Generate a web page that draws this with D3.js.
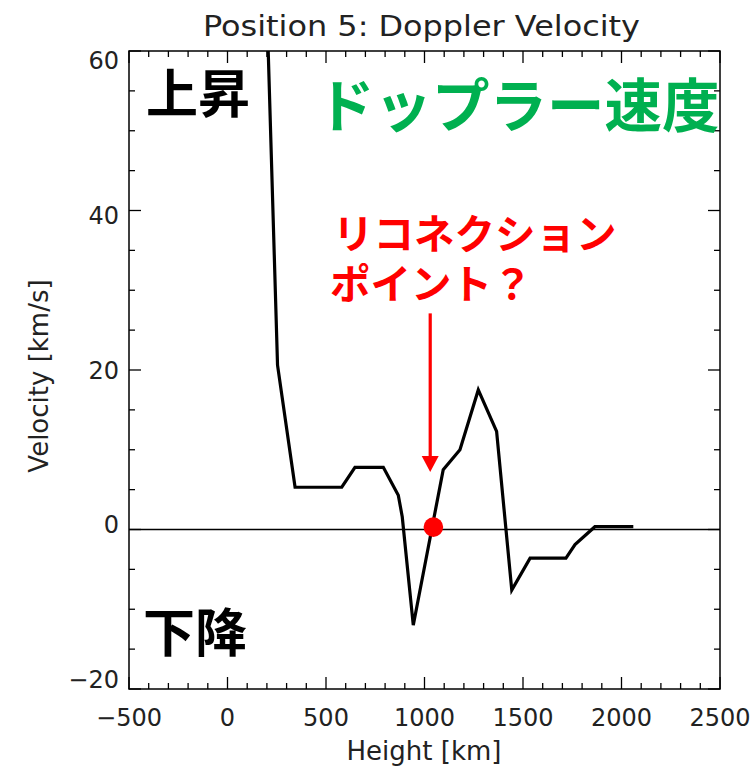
<!DOCTYPE html>
<html>
<head>
<meta charset="utf-8">
<script src="https://cdn.jsdelivr.net/npm/d3@7"></script>
<style>
  html, body { margin: 0; padding: 0; background: #fff; }
  svg { display: block; }
</style>
</head>
<body>
<svg id="chart" width="756" height="768"></svg>
<script>
// Doppler velocity profile along height (km) at position 5
const heights    = [185, 254, 343, 580, 647, 791, 867, 887, 943, 1095, 1180, 1273, 1366, 1443, 1536, 1718, 1764, 1865, 2060];
const velocities = [78, 20.6, 5.3, 5.3, 7.8, 7.8, 4.3, 1.6, -12.0, 7.5, 10.0, 17.5, 12.3, -7.6, -3.6, -3.6, -1.9, 0.35, 0.35];

const xMajorTicks = [-500, 0, 500, 1000, 1500, 2000, 2500];
const yMajorTicks = [-20, 0, 20, 40, 60];

// Candidate reconnection point and its pointer
const reconnectionPoint = [1045, 0.3];
const pointerFrom = [1029, 27.1];
const pointerTo   = [1029, 7.2];

const frame = { left: 129, right: 720, top: 51, bottom: 689 };

const svg = d3.select("#chart");
const x = d3.scaleLinear().domain([-500, 2500]).range([frame.left, frame.right]);
const y = d3.scaleLinear().domain([-20, 60]).range([frame.bottom, frame.top]);
// tick labels sit slightly inside the extreme ticks
const yLabelPos = d3.scaleLinear().domain([60, -20]).range([61, 680]);

const axisFont = "'DejaVu Sans', sans-serif";
const textCol = "#222";

svg.append("defs").append("clipPath").attr("id", "plotClip")
  .append("rect")
  .attr("x", frame.left).attr("y", frame.top)
  .attr("width", frame.right - frame.left).attr("height", frame.bottom - frame.top);

// Frame
svg.append("rect")
  .attr("x", frame.left).attr("y", frame.top)
  .attr("width", frame.right - frame.left).attr("height", frame.bottom - frame.top)
  .attr("fill", "none").attr("stroke", "#000").attr("stroke-width", 1.5);

// Inward ticks on all four sides: majors plus minor subdivisions
const tickG = svg.append("g").attr("stroke", "#000").attr("stroke-width", 1.3);
const xAll = d3.range(-500, 2501, 100);
const yAll = d3.range(-20, 61, 5);
xAll.forEach(v => {
  const len = (v % 500 === 0) ? 12 : 6;
  const px = x(v);
  tickG.append("line").attr("x1", px).attr("x2", px).attr("y1", frame.bottom).attr("y2", frame.bottom - len);
  tickG.append("line").attr("x1", px).attr("x2", px).attr("y1", frame.top).attr("y2", frame.top + len);
});
yAll.forEach(v => {
  const len = (v % 20 === 0) ? 12 : 6;
  const py = y(v);
  tickG.append("line").attr("x1", frame.left).attr("x2", frame.left + len).attr("y1", py).attr("y2", py);
  tickG.append("line").attr("x1", frame.right).attr("x2", frame.right - len).attr("y1", py).attr("y2", py);
});

const fmt = v => (v < 0 ? "\u2212" + Math.abs(v) : String(v));

// X tick labels
svg.append("g").selectAll("text").data(xMajorTicks).join("text")
  .attr("x", d => x(d)).attr("y", 726)
  .attr("text-anchor", "middle")
  .attr("font-family", axisFont).attr("font-size", 24).attr("fill", textCol)
  .text(fmt);

// Y tick labels
svg.append("g").selectAll("text").data(yMajorTicks).join("text")
  .attr("x", 119).attr("y", d => yLabelPos(d))
  .attr("text-anchor", "end").attr("dominant-baseline", "central")
  .attr("font-family", axisFont).attr("font-size", 24).attr("fill", textCol)
  .text(fmt);

// Titles
svg.append("text")
  .attr("x", 421.5).attr("y", 36).attr("text-anchor", "middle")
  .attr("font-family", axisFont).attr("font-size", 28).attr("fill", textCol)
  .attr("textLength", 437).attr("lengthAdjust", "spacingAndGlyphs")
  .text("Position 5: Doppler Velocity");

svg.append("text")
  .attr("x", 424).attr("y", 760).attr("text-anchor", "middle")
  .attr("font-family", axisFont).attr("font-size", 26).attr("fill", textCol)
  .text("Height [km]");

svg.append("text")
  .attr("transform", "translate(48,376) rotate(-90)")
  .attr("text-anchor", "middle")
  .attr("font-family", axisFont).attr("font-size", 26).attr("fill", textCol)
  .text("Velocity [km/s]");

// Zero line
svg.append("line")
  .attr("x1", frame.left).attr("x2", frame.right)
  .attr("y1", y(0)).attr("y2", y(0))
  .attr("stroke", "#000").attr("stroke-width", 1.3);

// Velocity profile
const pts = heights.map((h, i) => [h, velocities[i]]);
svg.append("path")
  .datum(pts)
  .attr("clip-path", "url(#plotClip)")
  .attr("fill", "none").attr("stroke", "#000").attr("stroke-width", 3.2)
  .attr("stroke-linejoin", "miter")
  .attr("d", d3.line().x(d => x(d[0])).y(d => y(d[1])));

// Annotations
const jp = "'Noto Sans CJK JP', sans-serif";
svg.append("text").attr("x", 146).attr("y", 113)
  .attr("font-family", jp).attr("font-weight", 700).attr("font-size", 52).attr("fill", "#000")
  .text("上昇");
svg.append("text").attr("x", 143).attr("y", 652)
  .attr("font-family", jp).attr("font-weight", 700).attr("font-size", 52).attr("fill", "#000")
  .text("下降");
svg.append("text").attr("x", 317).attr("y", 127)
  .attr("font-family", jp).attr("font-weight", 700).attr("font-size", 57.5).attr("fill", "#00B050")
  .text("ドップラー速度");

const label = svg.append("text")
  .attr("font-family", jp).attr("font-weight", 700).attr("font-size", 40.5).attr("fill", "#FF0000");
label.append("tspan").attr("x", 333).attr("y", 249).text("リコネクション");
label.append("tspan").attr("x", 330).attr("y", 299).text("ポイント？");

// Pointer arrow
const ax = x(pointerFrom[0]);
const tipY = y(pointerTo[1]);
const headLen = 16, headHalf = 8.5;
svg.append("line")
  .attr("x1", ax).attr("x2", ax)
  .attr("y1", y(pointerFrom[1])).attr("y2", tipY - headLen + 1)
  .attr("stroke", "#FF0000").attr("stroke-width", 3.2);
svg.append("path")
  .attr("d", `M${ax - headHalf},${tipY - headLen} L${ax + headHalf},${tipY - headLen} L${ax},${tipY} Z`)
  .attr("fill", "#FF0000");

// Reconnection point marker
svg.append("circle")
  .attr("cx", x(reconnectionPoint[0])).attr("cy", y(reconnectionPoint[1]))
  .attr("r", 9.8).attr("fill", "#FF0000");
</script>
</body>
</html>
